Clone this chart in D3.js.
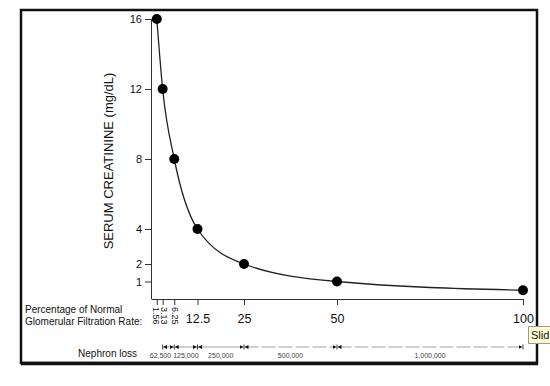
<!DOCTYPE html>
<html>
<head>
<meta charset="utf-8">
<title>Serum creatinine vs GFR</title>
<script src="https://cdn.jsdelivr.net/npm/d3@7"></script>
<style>
body { margin: 0; background: #fff; }
svg text { font-family: "Liberation Sans", Arial, Helvetica, sans-serif; fill: #111; }
</style>
</head>
<body>
<script>
// data
var gfr = [1.56, 3.13, 6.25, 12.5, 25, 50, 100];
var creatinine = [16, 12, 8, 4, 2, 1, 0.5];
var yTicks = [1, 2, 4, 8, 12, 16];
var xTickLabels = ["1.56", "3.13", "6.25", "12.5", "25", "50", "100"];
var nephronFrom = [3.13, 6.25, 12.5, 25, 50];
var nephronTo = [6.25, 12.5, 25, 50, 100];
var nephronLoss = ["62,500", "125,000", "250,000", "500,000", "1,000,000"];

var w = 550, h = 386;

var svg = d3.select("body").append("svg")
    .attr("width", w)
    .attr("height", h);

var x = d3.scaleLinear().domain([0, 100]).range([151, 523]);
var y = d3.scaleLinear().domain([0, 16]).range([299, 19]);

// frame
svg.append("rect")
    .attr("x", 21).attr("y", 10)
    .attr("width", 516).attr("height", 353)
    .attr("fill", "none")
    .attr("stroke", "#111")
    .attr("stroke-width", 2.5);
svg.append("line")
    .attr("x1", 21).attr("x2", 538)
    .attr("y1", 363.5).attr("y2", 363.5)
    .attr("stroke", "#111").attr("stroke-width", 3.5);

// y axis
var yAxis = svg.append("g")
    .attr("transform", "translate(151,0)")
    .call(d3.axisLeft(y).tickValues(yTicks).tickSize(6).tickSizeOuter(0).tickPadding(3));
yAxis.select(".domain").attr("d", "M0.5," + y(16) + "V" + y(0)).attr("stroke", "#333");
yAxis.selectAll(".tick line").attr("stroke", "#333");
yAxis.selectAll(".tick text").style("font-size", "11px");

svg.append("text")
    .attr("transform", "translate(113,161) rotate(-90)")
    .attr("text-anchor", "middle")
    .style("font-size", "13px")
    .text("SERUM CREATININE (mg/dL)");

// x axis
var xAxis = svg.append("g")
    .attr("transform", "translate(0," + y(0) + ")")
    .call(d3.axisBottom(x).tickValues(gfr).tickSize(6).tickSizeOuter(0)
        .tickFormat(function(d, i) { return xTickLabels[i]; }));
xAxis.select(".domain").attr("stroke", "#333");
xAxis.selectAll(".tick line").attr("stroke", "#333");
var nudge = [1.5, -1, 0];
xAxis.selectAll(".tick text")
    .each(function(d, i) {
        var t = d3.select(this);
        if (i < 3) {
            t.attr("transform", "rotate(90)")
             .attr("x", 8).attr("y", nudge[i]).attr("dy", "0.33em")
             .attr("text-anchor", "start")
             .style("font-size", "9px");
        } else {
            t.attr("y", 15).attr("dy", "0.71em")
             .style("font-size", "12.5px");
        }
    });

svg.append("text")
    .attr("x", 25).attr("y", 313)
    .style("font-size", "10px")
    .text("Percentage of Normal");
svg.append("text")
    .attr("x", 25).attr("y", 325)
    .style("font-size", "10px")
    .text("Glomerular Filtration Rate:");

// curve and points
var pts = gfr.map(function(g, i) { return [g, creatinine[i]]; });
var line = d3.line()
    .x(function(d) { return x(d[0]); })
    .y(function(d) { return y(d[1]); })
    .curve(d3.curveMonotoneX);

svg.append("path")
    .datum(pts)
    .attr("d", line)
    .attr("fill", "none")
    .attr("stroke", "#222")
    .attr("stroke-width", 1.3);

svg.selectAll("circle.pt")
    .data(pts)
    .enter().append("circle")
    .attr("class", "pt")
    .attr("cx", function(d) { return x(d[0]); })
    .attr("cy", function(d) { return y(d[1]); })
    .attr("r", 5)
    .attr("fill", "#000");

// nephron loss row
var defs = svg.append("defs");
defs.append("marker")
    .attr("id", "arr")
    .attr("viewBox", "0 0 10 10")
    .attr("refX", 10).attr("refY", 5)
    .attr("markerWidth", 4).attr("markerHeight", 4)
    .attr("markerUnits", "userSpaceOnUse")
    .attr("orient", "auto-start-reverse")
    .append("path").attr("d", "M0,0L10,5L0,10Z").attr("fill", "#111");

var ny = 347;
svg.append("text")
    .attr("x", 137).attr("y", 357)
    .attr("text-anchor", "end")
    .style("font-size", "10px")
    .text("Nephron loss");

var seg = svg.selectAll("g.seg")
    .data(nephronLoss)
    .enter().append("g")
    .attr("class", "seg");

seg.append("line")
    .attr("x1", function(d, i) { return x(nephronFrom[i]) + 0.5; })
    .attr("x2", function(d, i) { return x(nephronTo[i]) - 0.5; })
    .attr("y1", ny).attr("y2", ny)
    .attr("stroke", "#888")
    .attr("stroke-width", 0.8)
    .attr("stroke-dasharray", function(d, i) { return i > 2 ? "14,3" : null; })
    .attr("marker-start", "url(#arr)")
    .attr("marker-end", "url(#arr)");

seg.append("text")
    .attr("x", function(d, i) { return (x(nephronFrom[i]) + x(nephronTo[i])) / 2; })
    .attr("dx", function(d, i) { return i === 0 ? -8 : 0; })
    .attr("y", 358)
    .attr("text-anchor", "middle")
    .style("font-size", "7px")
    .style("fill", "#444")
    .text(function(d) { return d; });

// boundary bars
svg.selectAll("line.bnd")
    .data(nephronFrom.concat([100]))
    .enter().append("line")
    .attr("class", "bnd")
    .attr("x1", function(d) { return x(d); })
    .attr("x2", function(d) { return x(d); })
    .attr("y1", ny - 2.5).attr("y2", ny + 2.5)
    .attr("stroke", "#111").attr("stroke-width", 0.8);

// tooltip fragment at the right edge
svg.append("rect")
    .attr("x", 528.5).attr("y", 326.5)
    .attr("width", 30).attr("height", 17)
    .attr("fill", "#ffffd2")
    .attr("stroke", "#999");
svg.append("text")
    .attr("x", 531).attr("y", 339)
    .style("font-size", "11px")
    .text("Slid");
</script>
</body>
</html>
